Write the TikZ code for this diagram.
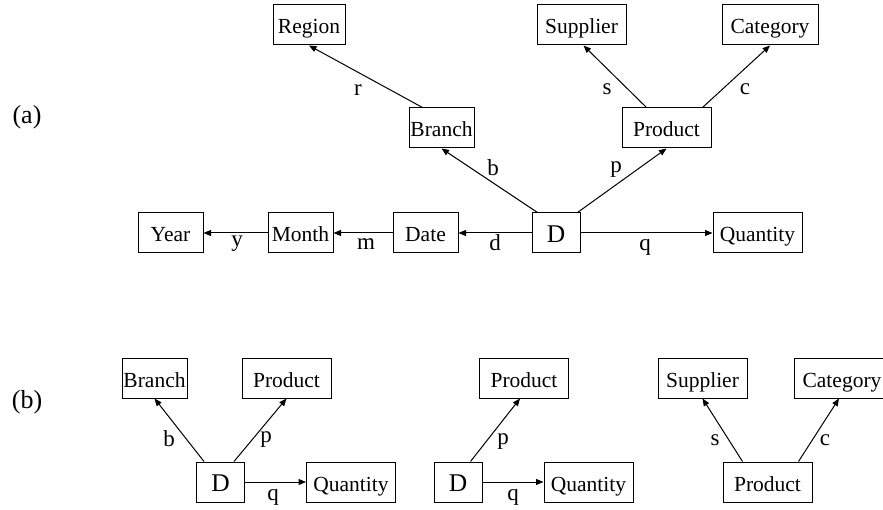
\documentclass[tikz,border=0pt]{standalone}
\usepackage{fontspec}
\setmainfont{Liberation Serif}
\usetikzlibrary{arrows.meta}
\begin{document}
\begin{tikzpicture}[x=1pt,y=-1pt,
  box/.style={draw, line width=1pt, minimum height=40pt, inner sep=0pt, text height=18pt, text depth=0pt, font=\fontsize{21.5}{21.5}\selectfont},
  dbox/.style={box, minimum width=48pt, text height=19pt, font=\fontsize{25.5}{25.5}\selectfont},
  lbl/.style={inner sep=0pt, font=\fontsize{23}{23}\selectfont},
  tag/.style={inner sep=0pt, font=\fontsize{26}{26}\selectfont},
  arr/.style={-{Triangle[length=7.5pt,width=6pt]}, line width=1pt}]
\useasboundingbox (0,0) rectangle (883,510);
\clip (0,0) rectangle (883,510);
% ---------- (a) ----------
\node[tag] (taga) at (27,117) {(a)};
\node[box, minimum width=72pt] (region) at (309,25) {Region};
\node[box, minimum width=89pt] (supplier) at (581.5,25) {Supplier};
\node[box, minimum width=96pt] (category) at (770,25) {Category};
\node[box, minimum width=65pt] (branch) at (441.5,128) {Branch};
\node[box, minimum width=89pt] (product) at (666.5,128) {Product};
\node[box, minimum width=65pt] (year) at (170.5,233) {Year};
\node[box, minimum width=65pt] (month) at (300.5,233) {Month};
\node[box, minimum width=65pt] (date) at (425.5,233) {Date};
\node[dbox] (D) at (556,233) {D};
\node[box, minimum width=89pt] (quantity) at (757.5,233) {Quantity};

\draw[arr] ([xshift=14pt]branch.north west) -- (region.south);
\draw[arr] ([xshift=25pt]product.north west) -- ([xshift=2pt]supplier.south);
\draw[arr] ([xshift=-9pt]product.north east) -- (category.south);
\draw[arr] ([xshift=6pt]D.north west) -- (branch.south);
\draw[arr] ([xshift=-3pt]D.north east) -- (product.south);
\draw[arr] (D.west) -- (date.east);
\draw[arr] (date.west) -- (month.east);
\draw[arr] (month.west) -- (year.east);
\draw[arr] (D.east) -- (quantity.west);

\node[lbl] (lr) at (358,90) {r};
\node[lbl] (ls) at (607,89) {s};
\node[lbl] (lc) at (745,89) {c};
\node[lbl] (lb) at (493,168) {b};
\node[lbl] (lp) at (616,170) {p};
\node[lbl] (ly) at (237,244) {y};
\node[lbl] (lm) at (366,244) {m};
\node[lbl] (ld) at (495,243) {d};
\node[lbl] (lq) at (645,247) {q};

% ---------- (b) ----------
\node[tag] (tagb) at (27,402) {(b)};
\node[box, minimum width=65pt] (branchB) at (154.5,378) {Branch};
\node[box, minimum width=89pt] (productB) at (286.5,378) {Product};
\node[dbox] (DB) at (220.5,482) {D};
\node[box, minimum width=89pt] (quantityB) at (351,482) {Quantity};
\draw[arr] ([xshift=8pt]DB.north west) -- (branchB.south);
\draw[arr] ([xshift=-11pt]DB.north east) -- (productB.south);
\draw[arr] (DB.east) -- (quantityB.west);
\node[lbl] (lbB) at (169,439) {b};
\node[lbl] (lpB) at (266,440) {p};
\node[lbl] (lqB) at (273,497) {q};

\node[box, minimum width=89pt] (productC) at (524,378) {Product};
\node[dbox] (DC) at (458,482) {D};
\node[box, minimum width=89pt] (quantityC) at (588.5,482) {Quantity};
\draw[arr] ([xshift=-12pt]DC.north east) -- ([xshift=-4pt]productC.south);
\draw[arr] (DC.east) -- (quantityC.west);
\node[lbl] (lpC) at (503,442) {p};
\node[lbl] (lqC) at (513,497) {q};

\node[box, minimum width=89pt] (supplierE) at (702.5,378) {Supplier};
\node[box, minimum width=96pt] (categoryE) at (842,378) {Category};
\node[box, minimum width=89pt] (productE) at (767.5,482) {Product};
\draw[arr] ([xshift=20pt]productE.north west) -- (supplierE.south);
\draw[arr] ([xshift=-14pt]productE.north east) -- ([xshift=-3pt]categoryE.south);
\node[lbl] (lsE) at (715,440) {s};
\node[lbl] (lcE) at (825,440) {c};
\end{tikzpicture}
\end{document}
